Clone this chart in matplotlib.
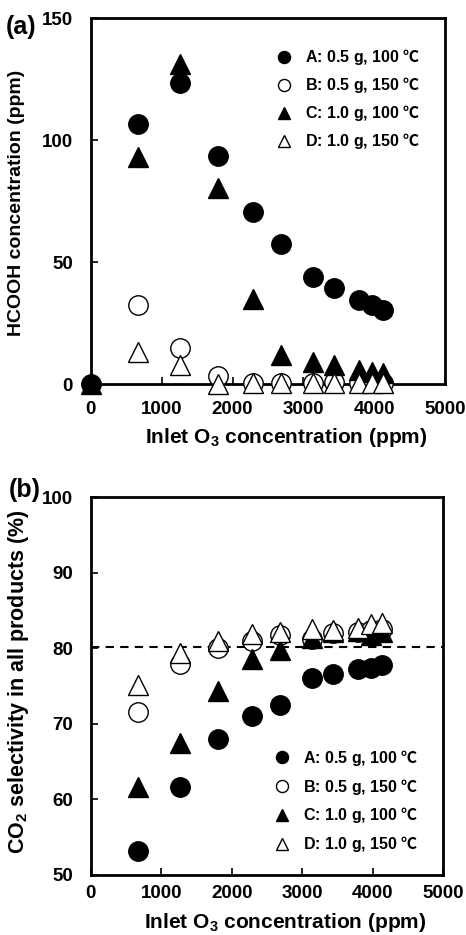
import numpy as np
import matplotlib
matplotlib.use('Agg')
import matplotlib.pyplot as plt

plt.rcParams['font.family'] = ['Liberation Sans', 'DejaVu Sans']
plt.rcParams['font.weight'] = 'bold'
plt.rcParams['mathtext.fontset'] = 'custom'
plt.rcParams['mathtext.bf'] = 'Liberation Sans:bold'
plt.rcParams['mathtext.rm'] = 'Liberation Sans:bold'
plt.rcParams['mathtext.sf'] = 'Noto Sans CJK JP'
plt.rcParams['mathtext.default'] = 'bf'

# inlet O3 concentration (ppm)
x_a = [0, 670, 1260, 1800, 2290, 2690, 3140, 3430, 3790, 3970, 4130]
x_b = [670, 1260, 1800, 2290, 2690, 3140, 3430, 3790, 3970, 4130]

# (a) HCOOH concentration (ppm)
hcooh_A = [0, 106.6, 123.5, 93.6, 70.4, 57.4, 43.7, 39.2, 34.3, 32.3, 30.4]
hcooh_B = [32.4, 14.6, 3.3, 0.5, 0.5, 0.5, 0.8, 0.5, 0.4, 0.4]
hcooh_C = [0, 93.0, 131.0, 80.5, 35.0, 11.8, 9.1, 7.8, 5.7, 5.0, 4.6]
hcooh_D = [13.2, 7.8, 0.0, 0.3, 0.3, 0.3, 0.5, 0.3, 0.3, 0.3]

# (b) CO2 selectivity (%)
sel_A = [53.2, 61.6, 68.0, 71.0, 72.5, 76.1, 76.6, 77.2, 77.4, 77.8]
sel_B = [71.5, 77.9, 80.0, 81.0, 81.8, 81.2, 82.0, 82.2, 82.4, 82.6]
sel_C = [61.6, 67.4, 74.4, 78.6, 79.8, 81.3, 82.1, 82.3, 81.8, 82.2]
sel_D = [75.1, 79.4, 81.0, 81.9, 82.1, 82.6, 82.4, 82.7, 83.2, 83.3]
ref_line = 80.2

labels = ['A: 0.5 g, 100 $\\mathsf{\u2103}$', 'B: 0.5 g, 150 $\\mathsf{\u2103}$',
          'C: 1.0 g, 100 $\\mathsf{\u2103}$', 'D: 1.0 g, 150 $\\mathsf{\u2103}$']
styles = [('o', 'black'), ('o', 'white'), ('^', 'black'), ('^', 'white')]

fig = plt.figure(figsize=(4.66, 9.35), dpi=100)
ax1 = fig.add_axes([0.195, 0.5893, 0.76, 0.3914])
ax2 = fig.add_axes([0.195, 0.0642, 0.756, 0.4042])

def draw(ax, xs, series):
    for x, y, (m, fc), lab in zip(xs, series, styles, labels):
        ax.plot(x, y, linestyle='none', marker=m, markersize=14,
                markerfacecolor=fc, markeredgecolor='black',
                markeredgewidth=1.0, label=lab, clip_on=False, zorder=3)

draw(ax1, [x_a, x_b, x_a, x_b], [hcooh_A, hcooh_B, hcooh_C, hcooh_D])
draw(ax2, [x_b] * 4, [sel_A, sel_B, sel_C, sel_D])
ax2.axhline(ref_line, color='black', linestyle=(0, (4, 3)), linewidth=1.5, zorder=2)

for ax in (ax1, ax2):
    ax.set_xlim(0, 5000)
    ax.set_xticks(np.arange(0, 5001, 1000))
    ax.tick_params(direction='in', length=5, width=1.2, labelsize=13.5)
    ax.tick_params(axis='y', pad=13)
    for s in ax.spines.values():
        s.set_linewidth(2)
ax1.tick_params(axis='x', pad=12)
ax2.tick_params(axis='x', pad=7)

ax1.set_ylim(0, 150)
ax1.set_yticks([0, 50, 100, 150])
ax1.set_xlabel('Inlet O$_3$ concentration (ppm)', fontsize=15, fontweight='bold', va='center')
ax1.xaxis.set_label_coords(0.551, -0.1475)
ax1.set_ylabel('HCOOH concentration (ppm)', fontsize=14, fontweight='bold', va='center')
ax1.yaxis.set_label_coords(-0.209, 0.4945)
ax1.legend(loc='upper right', frameon=False, markerscale=0.62, handletextpad=0.3,
           fontsize=11.5, bbox_to_anchor=(0.93, 0.92), labelspacing=0.5,
           borderaxespad=0, borderpad=0)

ax2.set_ylim(50, 100)
ax2.set_yticks([50, 60, 70, 80, 90, 100])
ax2.set_xlabel('Inlet O$_3$ concentration (ppm)', fontsize=15, fontweight='bold', va='center')
ax2.xaxis.set_label_coords(0.551, -0.127)
ax2.set_ylabel('CO$_2$ selectivity in all products (%)', fontsize=15.5, fontweight='bold', va='center')
ax2.yaxis.set_label_coords(-0.2045, 0.511)
ax2.legend(loc='lower right', frameon=False, markerscale=0.62, handletextpad=0.3,
           fontsize=11.5, bbox_to_anchor=(0.93, 0.055), labelspacing=0.55,
           borderaxespad=0, borderpad=0)

for t in ax1.get_xticklabels() + ax1.get_yticklabels() + ax2.get_xticklabels() + ax2.get_yticklabels():
    t.set_fontweight('bold')

fig.text(0.012, 0.984, '(a)', fontsize=18, fontweight='bold', va='top')
fig.text(0.018, 0.489, '(b)', fontsize=18, fontweight='bold', va='top')

fig.savefig('out.png', dpi=100)
